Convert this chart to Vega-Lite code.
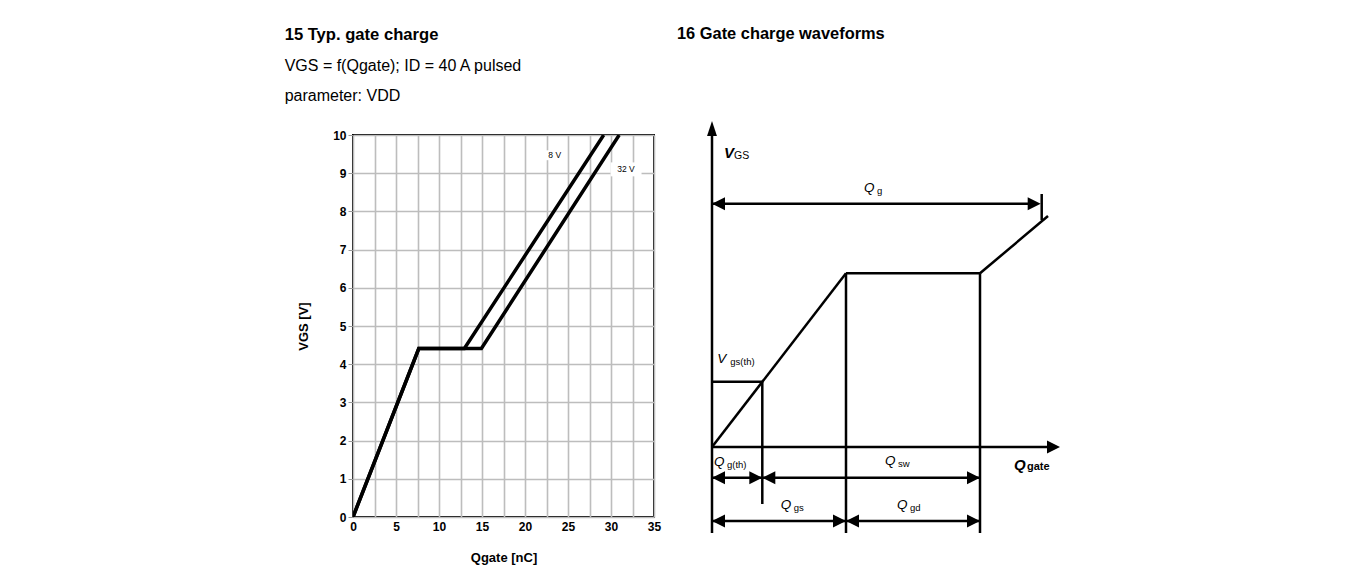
{
  "$schema": "https://vega.github.io/schema/vega-lite/v6.json",
  "background": "white",
  "padding": {"left": 283, "top": 25, "right": 0, "bottom": 0},
  "config": {
    "font": "Liberation Sans",
    "view": {"stroke": null}
  },
  "spacing": 15,
  "hconcat": [
    {
      "width": 301,
      "height": 382,
      "view": {"stroke": "black", "strokeWidth": 2},
      "title": {
        "text": "15 Typ. gate charge",
        "subtitle": ["VGS = f(Qgate); ID = 40 A pulsed", "parameter: VDD"],
        "anchor": "start",
        "frame": "bounds",
        "dx": -13,
        "fontSize": 16.6,
        "fontWeight": "bold",
        "color": "black",
        "subtitleFont": "Liberation Sans",
        "subtitleFontSize": 16,
        "subtitleColor": "black",
        "subtitleLineHeight": 30,
        "subtitlePadding": 14,
        "offset": 25
      },
      "encoding": {
        "x": {
          "field": "x",
          "type": "quantitative",
          "scale": {"domain": [0, 35], "nice": false, "zero": false},
          "axis": {
            "values": [0, 2.5, 5, 7.5, 10, 12.5, 15, 17.5, 20, 22.5, 25, 27.5, 30, 32.5, 35],
            "labelExpr": "datum.value % 5 === 0 ? datum.label : ''",
            "grid": true,
            "gridColor": "#bdbdbd",
            "gridWidth": 1.6,
            "domain": false,
            "ticks": false,
            "labelFontSize": 12,
            "labelFontWeight": "bold",
            "labelColor": "black",
            "labelPadding": 4,
            "labelOverlap": false,
            "labelFlush": false,
            "title": "Qgate [nC]",
            "titleFontSize": 13,
            "titleFontWeight": "bold",
            "titleColor": "black",
            "titlePadding": 19
          }
        },
        "y": {
          "field": "y",
          "type": "quantitative",
          "scale": {"domain": [0, 10], "nice": false, "zero": false},
          "axis": {
            "values": [0, 1, 2, 3, 4, 5, 6, 7, 8, 9, 10],
            "grid": true,
            "gridColor": "#bdbdbd",
            "gridWidth": 1.6,
            "domain": false,
            "ticks": true,
            "tickColor": "#999999",
            "tickSize": 5,
            "labelFontSize": 12,
            "labelFontWeight": "bold",
            "labelColor": "black",
            "labelPadding": 2,
            "labelFlush": false,
            "title": "VGS [V]",
            "titleFontSize": 13,
            "titleFontWeight": "bold",
            "titleColor": "black",
            "titlePadding": 22
          }
        }
      },
      "layer": [
        {
          "data": {"values": [
            {"VDD": "8 V", "x": 0, "y": 0},
            {"VDD": "8 V", "x": 7.65, "y": 4.41},
            {"VDD": "8 V", "x": 12.95, "y": 4.41},
            {"VDD": "8 V", "x": 29.15, "y": 10},
            {"VDD": "32 V", "x": 0, "y": 0},
            {"VDD": "32 V", "x": 7.65, "y": 4.41},
            {"VDD": "32 V", "x": 14.93, "y": 4.41},
            {"VDD": "32 V", "x": 30.95, "y": 10}
          ]},
          "mark": {"type": "line", "color": "black", "strokeWidth": 3.5, "strokeJoin": "miter", "clip": true},
          "encoding": {"detail": {"field": "VDD"}}
        },
        {
          "data": {"values": [
            {"label": "8 V", "x": 23.45, "y": 9.47},
            {"label": "32 V", "x": 31.75, "y": 9.1}
          ]},
          "mark": {"type": "point", "filled": true, "color": "white", "opacity": 1, "strokeWidth": 0},
          "encoding": {
            "shape": {"value": "M-1,-0.45H1V0.45H-1Z"},
            "size": {"field": "label", "type": "nominal", "scale": {"domain": ["8 V", "32 V"], "range": [484, 961]}, "legend": null}
          }
        },
        {
          "data": {"values": [
            {"label": "8 V", "x": 23.45, "y": 9.47},
            {"label": "32 V", "x": 31.75, "y": 9.1}
          ]},
          "mark": {"type": "text", "fontSize": 8.5, "color": "black", "align": "center", "baseline": "middle"},
          "encoding": {"text": {"field": "label"}}
        }
      ]
    },
    {
      "width": 392,
      "height": 406,
      "view": {"stroke": null},
      "title": {
        "text": "16 Gate charge waveforms",
        "anchor": "start",
        "frame": "group",
        "fontSize": 16.4,
        "fontWeight": "bold",
        "color": "black",
        "offset": 79
      },
      "encoding": {
        "x": {"field": "x", "type": "quantitative", "scale": {"domain": [-3.5, 35.7], "nice": false, "zero": false}, "axis": null},
        "y": {"field": "y", "type": "quantitative", "scale": {"domain": [-9.4, 31.2], "nice": false, "zero": false}, "axis": null}
      },
      "layer": [
        {
          "data": {"values": [
            {"x": 0, "y": -8.6, "x2": 0, "y2": 31.5},
            {"x": 0, "y": 0, "x2": 34, "y2": 0},
            {"x": 0, "y": 0, "x2": 13.4, "y2": 17.37},
            {"x": 13.4, "y": 17.37, "x2": 26.8, "y2": 17.37},
            {"x": 26.8, "y": 17.37, "x2": 33.6, "y2": 23.1},
            {"x": 0, "y": 6.53, "x2": 5.03, "y2": 6.53},
            {"x": 5.03, "y": 6.53, "x2": 5.03, "y2": -5.7},
            {"x": 13.4, "y": 17.37, "x2": 13.4, "y2": -8.6},
            {"x": 26.8, "y": 17.37, "x2": 26.8, "y2": -8.6},
            {"x": 0, "y": 24.33, "x2": 32.0, "y2": 24.33},
            {"x": 32.97, "y": 25.3, "x2": 32.97, "y2": 22.7},
            {"x": 0, "y": -3.07, "x2": 5.03, "y2": -3.07},
            {"x": 5.03, "y": -3.07, "x2": 26.8, "y2": -3.07},
            {"x": 0, "y": -7.4, "x2": 13.4, "y2": -7.4},
            {"x": 13.4, "y": -7.4, "x2": 26.8, "y2": -7.4}
          ]},
          "mark": {"type": "rule", "color": "black", "strokeWidth": 2.5},
          "encoding": {
            "x2": {"field": "x2"},
            "y2": {"field": "y2"}
          }
        },
        {
          "data": {"values": [
            {"dir": "up", "x": 0, "y": 32.6},
            {"dir": "right", "x": 34.8, "y": 0},
            {"dir": "left", "x": 0, "y": 24.33},
            {"dir": "right", "x": 32.87, "y": 24.33},
            {"dir": "left", "x": 0, "y": -3.07},
            {"dir": "right", "x": 5.03, "y": -3.07},
            {"dir": "left", "x": 5.03, "y": -3.07},
            {"dir": "right", "x": 26.8, "y": -3.07},
            {"dir": "left", "x": 0, "y": -7.4},
            {"dir": "right", "x": 13.4, "y": -7.4},
            {"dir": "left", "x": 13.4, "y": -7.4},
            {"dir": "right", "x": 26.8, "y": -7.4}
          ]},
          "mark": {"type": "point", "filled": true, "color": "black", "opacity": 1, "size": 676, "strokeWidth": 0},
          "encoding": {
            "shape": {
              "field": "dir",
              "type": "nominal",
              "scale": {"domain": ["right", "left", "up"], "range": ["M0,0L-1,-0.5L-1,0.5Z", "M0,0L1,-0.5L1,0.5Z", "M0,0L-0.38,1.15L0.38,1.15Z"]},
              "legend": null
            }
          }
        },
        {
          "data": {"values": [
            {"main": "Q", "sub": "g", "x": 15.2, "y": 25.5},
            {"main": "V", "sub": "gs(th)", "x": 0.53, "y": 8.43},
            {"main": "Q", "sub": "g(th)", "x": 0.2, "y": -1.9},
            {"main": "Q", "sub": "sw", "x": 17.3, "y": -1.8},
            {"main": "Q", "sub": "gs", "x": 6.87, "y": -6.23},
            {"main": "Q", "sub": "gd", "x": 18.5, "y": -6.23}
          ]},
          "mark": {"type": "text", "fontSize": 13.5, "fontStyle": "italic", "color": "black", "align": "left", "baseline": "alphabetic"},
          "encoding": {"text": {"field": "main"}}
        },
        {
          "data": {"values": [
            {"main": "Q", "sub": "g", "x": 15.2, "y": 25.5},
            {"main": "V", "sub": "gs(th)", "x": 0.53, "y": 8.43},
            {"main": "Q", "sub": "g(th)", "x": 0.2, "y": -1.9},
            {"main": "Q", "sub": "sw", "x": 17.3, "y": -1.8},
            {"main": "Q", "sub": "gs", "x": 6.87, "y": -6.23},
            {"main": "Q", "sub": "gd", "x": 18.5, "y": -6.23}
          ]},
          "mark": {"type": "text", "fontSize": 9.5, "color": "black", "align": "left", "baseline": "alphabetic", "dx": 13, "dy": 2},
          "encoding": {"text": {"field": "sub"}}
        },
        {
          "data": {"values": [
            {"main": "V", "x": 1.2, "y": 28.93},
            {"main": "Q", "x": 30.2, "y": -2.33}
          ]},
          "mark": {"type": "text", "fontSize": 15, "fontStyle": "italic", "fontWeight": "bold", "color": "black", "align": "left", "baseline": "alphabetic"},
          "encoding": {"text": {"field": "main"}}
        },
        {
          "data": {"values": [
            {"sub": "GS", "x": 1.2, "y": 28.93}
          ]},
          "mark": {"type": "text", "fontSize": 10.5, "color": "black", "align": "left", "baseline": "alphabetic", "dx": 10, "dy": 1},
          "encoding": {"text": {"field": "sub"}}
        },
        {
          "data": {"values": [
            {"sub": "gate", "x": 30.2, "y": -2.33}
          ]},
          "mark": {"type": "text", "fontSize": 11, "fontWeight": "bold", "color": "black", "align": "left", "baseline": "alphabetic", "dx": 13, "dy": 0},
          "encoding": {"text": {"field": "sub"}}
        }
      ]
    }
  ]
}
